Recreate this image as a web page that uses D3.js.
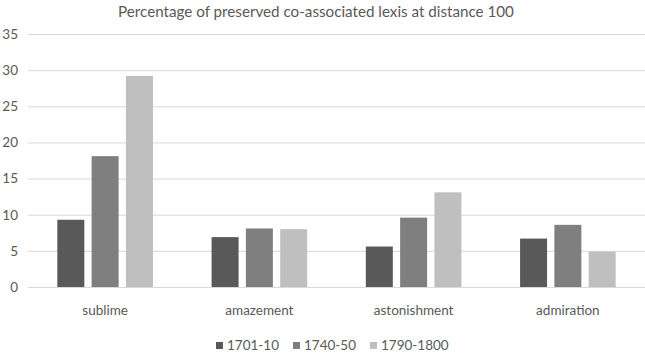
<!DOCTYPE html>
<html><head><meta charset="utf-8">
<script src="https://cdn.jsdelivr.net/npm/d3@7"></script>
<style>body{margin:0;background:#fff;} text{font-family:Lato,"Open Sans",sans-serif;fill:#595959;}</style>
</head><body>
<svg id="c" width="645" height="354"></svg>
<script>
const categories = ["sublime","amazement","astonishment","admiration"];
const series = ["1701-10","1740-50","1790-1800"];
const v1701 = [9.3, 6.9, 5.6, 6.7];
const v1740 = [18.1, 8.1, 9.6, 8.6];
const v1790 = [29.2, 8.0, 13.1, 4.9];
const yTicks = [0,5,10,15,20,25,30,35];
const colors = ["#595959","#7f7f7f","#bfbfbf"];
const title = "Percentage of preserved co-associated lexis at distance 100";

const values = [v1701, v1740, v1790];
const svg = d3.select("#c");
const x0 = d3.scaleBand().domain(categories).range([28,645]);
const x1 = d3.scaleBand().domain(series).range([0,x0.bandwidth()]).paddingInner(0.213).paddingOuter(0.855);
const y = d3.scaleLinear().domain([0,35]).range([287,34]);
const color = d3.scaleOrdinal().domain(series).range(colors);

svg.append("text").attr("x",316).attr("y",17).attr("text-anchor","middle").style("font-size","15.2px").text(title);

const yAxis = svg.append("g").attr("transform","translate(28,0)")
  .call(d3.axisLeft(y).tickValues(yTicks).tickSize(-617).tickPadding(10));
yAxis.select(".domain").remove();
yAxis.selectAll(".tick line").attr("stroke","#d9d9d9").attr("stroke-width",1);
yAxis.selectAll(".tick text").style("font-size","13.5px").attr("fill","#595959").style("font-family","Lato, 'Open Sans', sans-serif");

const xAxis = svg.append("g").attr("transform","translate(0,287)")
  .call(d3.axisBottom(x0).tickSize(0).tickPadding(18));
xAxis.select(".domain").remove();
xAxis.selectAll(".tick text").style("font-size","13.5px").attr("fill","#595959").style("font-family","Lato, 'Open Sans', sans-serif");

const data = categories.map((c,i)=>({cat:c, vals: series.map((s,j)=>({s, v: values[j][i]}))}));
svg.append("g").selectAll("g").data(data).join("g")
  .attr("transform",d=>`translate(${x0(d.cat)},0)`)
  .selectAll("rect").data(d=>d.vals).join("rect")
  .attr("x",d=>x1(d.s)).attr("width",x1.bandwidth())
  .attr("y",d=>y(d.v)).attr("height",d=>y(0)-y(d.v))
  .attr("fill",d=>color(d.s));

const lg = svg.append("g");
let lx = 216;
series.forEach((s,i)=>{
  lg.append("rect").attr("x",lx).attr("y",342).attr("width",7).attr("height",7).attr("fill",color(s));
  const t = lg.append("text").attr("x",lx+11).attr("y",350).style("font-size","13.5px").text(s);
  lx += 11 + t.node().getComputedTextLength() + 14;
});
</script>
</body></html>
